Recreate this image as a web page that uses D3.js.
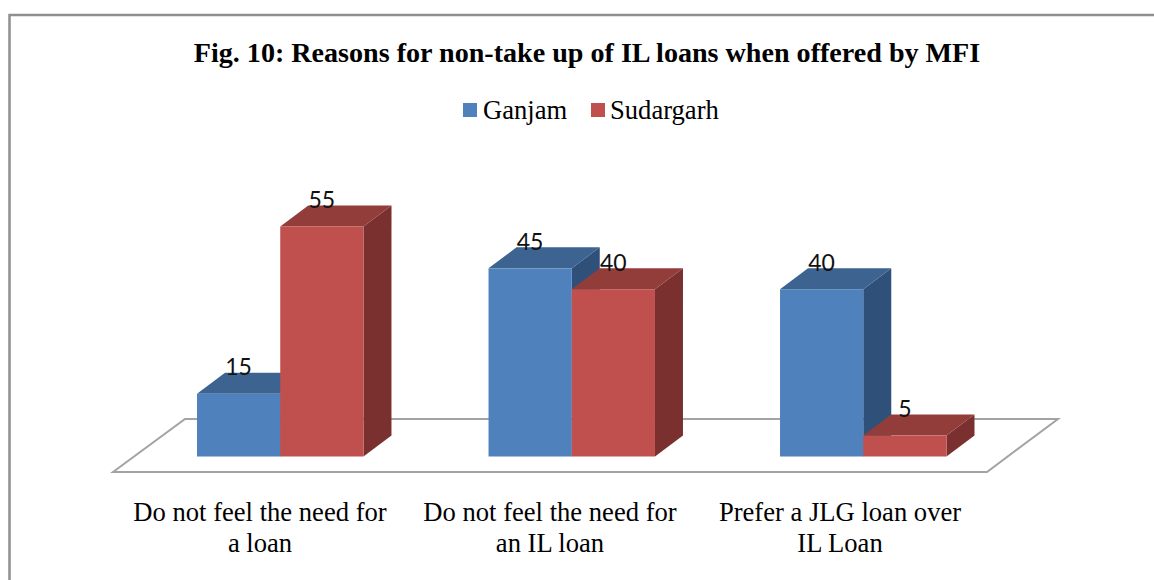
<!DOCTYPE html>
<html><head><meta charset="utf-8">
<script src="https://cdn.jsdelivr.net/npm/d3@7/dist/d3.min.js"></script>
<style>html,body{margin:0;padding:0;background:#fff;overflow:hidden}svg{display:block}</style>
</head><body><svg id="c" width="1154" height="580"></svg>
<script>
const titleText = "Fig. 10: Reasons for non-take up of IL loans when offered by MFI";
const categories = ["Do not feel the need for a loan","Do not feel the need for an IL loan","Prefer a JLG loan over IL Loan"];
const categoryLines = [["Do not feel the need for","a loan"],["Do not feel the need for","an IL loan"],["Prefer a JLG loan over","IL Loan"]];
const seriesNames = ["Ganjam","Sudargarh"];
const ganjam = [15,45,40];
const sudargarh = [55,40,5];
const front = ["#4f81bd","#c0504d"];
const topFace = ["#3d6390","#933d3b"];
const sideFace = ["#2f5078","#7a302e"];

const svg = d3.select("#c");
const serif = "'Liberation Serif',serif";
const depthX = 28, depthY = 21, baseY = 456.5;
const x0 = d3.scaleBand().domain(categories).range([134.5,1009]).paddingInner(0.429).paddingOuter(0.2145);
const x1 = d3.scaleBand().domain(seriesNames).range([0,x0.bandwidth()]);
const y = d3.scaleLinear().domain([0,55]).range([baseY,226.5]);
// category labels sit on a slightly tighter spacing than the bars
const xLabel = d3.scalePoint().domain(categories).range([260,840]);

// frame
svg.append("path").attr("d","M9.5,580V15H1154").attr("fill","none").attr("stroke","#8f8f8f").attr("stroke-width",2.5);

// floor
svg.append("path").attr("d","M113,472L185,419H1058L987,472Z").attr("fill","#fff").attr("stroke","#a3a3a3").attr("stroke-width",2);

svg.append("text").attr("x",587).attr("y",62).attr("text-anchor","middle")
  .attr("font-family",serif).attr("font-weight","bold").attr("font-size",28.1).text(titleText);

// legend
const legendItems = [{n:seriesNames[0],bx:463,tx:483},{n:seriesNames[1],bx:591,tx:610}];
legendItems.forEach((d,i)=>{
  svg.append("rect").attr("x",d.bx).attr("y",103).attr("width",14).attr("height",14).attr("fill",front[i]);
  svg.append("text").attr("x",d.tx).attr("y",119).attr("font-family",serif).attr("font-size",26.6).text(d.n);
});

const rows = categories.map((c,i)=>({c,vals:[ganjam[i],sudargarh[i]]}));
const labels = [];
rows.forEach(r=>{
  r.vals.forEach((v,s)=>{
    const xl = x0(r.c)+x1(seriesNames[s]), w = x1.bandwidth(), xr = xl+w, yt = y(v);
    const g = svg.append("g");
    g.append("path").attr("d",`M${xr},${baseY}L${xr+depthX},${baseY-depthY}V${yt-depthY}L${xr},${yt}Z`).attr("fill",sideFace[s]);
    g.append("path").attr("d",`M${xl},${yt}L${xl+depthX},${yt-depthY}H${xr+depthX}L${xr},${yt}Z`).attr("fill",topFace[s]);
    g.append("rect").attr("x",xl).attr("y",yt).attr("width",w).attr("height",baseY-yt).attr("fill",front[s]);
    labels.push({x:xl+w/2,y:yt-18.5,v});
  });
});
svg.selectAll("text.v").data(labels).join("text").attr("class","v")
  .attr("x",d=>d.x).attr("y",d=>d.y).attr("text-anchor","middle")
  .attr("font-family","Lato,'Open Sans',sans-serif").attr("font-size",23).attr("fill","#111").text(d=>d.v);

categories.forEach((c,i)=>{
  categoryLines[i].forEach((t,j)=>{
    svg.append("text").attr("x",xLabel(c)).attr("y",521+j*31).attr("text-anchor","middle")
      .attr("font-family",serif).attr("font-size",26.6).text(t);
  });
});
</script></body></html>
